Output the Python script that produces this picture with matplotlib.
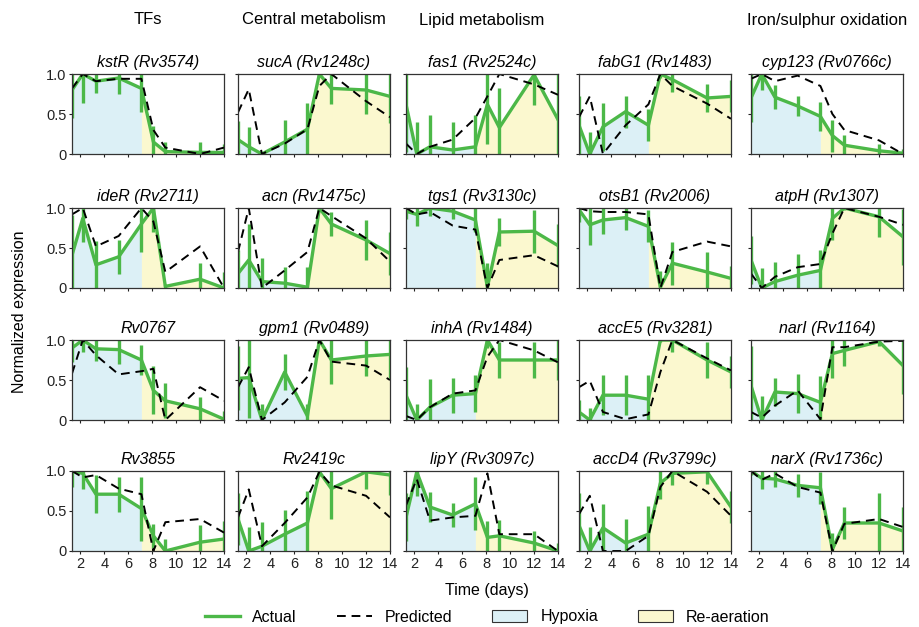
import matplotlib
matplotlib.use("Agg")
import matplotlib.pyplot as plt
import matplotlib.patches as patches
from matplotlib.lines import Line2D
import numpy as np

plt.rcParams['font.family'] = ['Liberation Sans', 'DejaVu Sans']

# sampling times (days), same for every gene
days = [1.3, 2.2, 3.3, 5.2, 7.1, 8.1, 9.1, 12.0, 14.0]
n_hypoxia = 5  # first five samples are hypoxia

column_names = ["TFs", "Central metabolism", "Lipid metabolism", "", "Iron/sulphur oxidation"]

# row 1
kstR_act = [0.80, 1.00, 0.91, 0.95, 0.82, 0.15, 0.03, 0.02, 0.02]
kstR_err = [0.35, 0.36, 0.15, 0.20, 0.30, 0.20, 0.12, 0.13, 0.10]
kstR_pred = [0.82, 1.00, 0.91, 0.94, 0.94, 0.30, 0.08, 0.00, 0.08]

sucA_act = [0.18, 0.09, 0.00, 0.15, 0.31, 1.00, 0.82, 0.80, 0.72]
sucA_err = [0.23, 0.25, 0.03, 0.27, 0.33, 0.03, 0.20, 0.30, 0.33]
sucA_pred = [0.52, 0.81, 0.00, 0.13, 0.31, 0.85, 1.00, 0.66, 0.46]

fas1_act = [0.62, 0.00, 0.09, 0.05, 0.09, 0.62, 0.33, 0.99, 0.43]
fas1_err = [0.60, 0.40, 0.40, 0.35, 0.40, 0.50, 0.50, 0.38, 0.90]
fas1_pred = [0.13, 0.00, 0.09, 0.18, 0.45, 0.72, 1.00, 0.87, 0.74]

fabG1_act = [0.36, 0.00, 0.34, 0.53, 0.36, 1.00, 0.93, 0.70, 0.72]
fabG1_err = [0.36, 0.28, 0.30, 0.20, 0.20, 0.05, 0.15, 0.17, 0.20]
fabG1_pred = [0.46, 0.72, 0.00, 0.36, 0.62, 1.00, 0.85, 0.63, 0.44]

cyp123_act = [0.70, 1.00, 0.71, 0.60, 0.47, 0.23, 0.11, 0.04, 0.01]
cyp123_err = [0.30, 0.20, 0.15, 0.13, 0.18, 0.20, 0.13, 0.08, 0.05]
cyp123_pred = [0.94, 1.00, 0.91, 0.98, 0.85, 0.50, 0.30, 0.17, 0.00]

# row 2
ideR_act = [0.41, 0.87, 0.29, 0.39, 0.80, 1.00, 0.02, 0.11, 0.00]
ideR_err = [0.50, 0.30, 0.30, 0.21, 0.35, 0.30, 0.03, 0.20, 0.20]
ideR_pred = [0.92, 1.00, 0.52, 0.65, 1.00, 0.83, 0.20, 0.52, 0.00]

acn_act = [0.18, 0.35, 0.08, 0.06, 0.01, 1.00, 0.80, 0.60, 0.43]
acn_err = [0.30, 0.45, 0.30, 0.20, 0.25, 0.03, 0.15, 0.25, 0.27]
acn_pred = [0.45, 1.00, 0.00, 0.22, 0.45, 1.00, 0.90, 0.62, 0.33]

tgs1_act = [0.96, 0.92, 1.00, 0.96, 0.85, 0.01, 0.70, 0.71, 0.53]
tgs1_err = [0.10, 0.15, 0.10, 0.10, 0.15, 0.30, 0.17, 0.27, 0.27]
tgs1_pred = [1.00, 0.92, 0.95, 0.78, 0.73, 0.00, 0.35, 0.41, 0.27]

otsB1_act = [0.98, 0.79, 0.85, 0.88, 0.77, 0.01, 0.31, 0.20, 0.12]
otsB1_err = [0.15, 0.25, 0.17, 0.15, 0.20, 0.20, 0.27, 0.25, 0.15]
otsB1_pred = [1.00, 0.96, 0.95, 0.95, 0.92, 0.00, 0.45, 0.58, 0.52]

atpH_act = [0.35, 0.00, 0.08, 0.16, 0.22, 0.87, 1.00, 0.89, 0.64]
atpH_err = [0.30, 0.25, 0.25, 0.27, 0.25, 0.27, 0.03, 0.25, 0.35]
atpH_pred = [0.18, 0.00, 0.14, 0.26, 0.30, 0.68, 1.00, 0.89, 0.79]

# row 3
Rv0767_act = [0.90, 1.00, 0.89, 0.88, 0.75, 0.37, 0.24, 0.14, 0.01]
Rv0767_err = [0.18, 0.15, 0.15, 0.18, 0.19, 0.30, 0.22, 0.15, 0.10]
Rv0767_pred = [0.58, 1.00, 0.81, 0.57, 0.61, 0.64, 0.00, 0.41, 0.24]

gpm1_act = [0.52, 0.53, 0.00, 0.60, 0.05, 1.00, 0.75, 0.80, 0.82]
gpm1_err = [0.40, 0.50, 0.20, 0.23, 0.15, 0.03, 0.30, 0.25, 0.30]
gpm1_pred = [0.41, 0.66, 0.00, 0.22, 0.54, 1.00, 0.73, 0.68, 0.50]

inhA_act = [0.31, 0.00, 0.16, 0.31, 0.33, 1.00, 0.75, 0.75, 0.75]
inhA_err = [0.35, 0.20, 0.35, 0.22, 0.23, 0.10, 0.22, 0.23, 0.25]
inhA_pred = [0.05, 0.00, 0.16, 0.33, 0.37, 0.79, 1.00, 0.87, 0.72]

accE5_act = [0.10, 0.00, 0.31, 0.31, 0.26, 1.00, 1.00, 0.75, 0.60]
accE5_err = [0.15, 0.15, 0.25, 0.25, 0.30, 0.03, 0.15, 0.23, 0.20]
accE5_pred = [0.41, 0.49, 0.10, 0.01, 0.07, 0.60, 1.00, 0.77, 0.62]

narI_act = [0.43, 0.00, 0.35, 0.33, 0.22, 0.83, 0.87, 0.98, 0.68]
narI_err = [0.50, 0.30, 0.18, 0.24, 0.33, 0.30, 0.20, 0.05, 0.35]
narI_pred = [0.10, 0.03, 0.18, 0.37, 0.01, 0.91, 0.91, 0.98, 0.99]

# row 4
Rv3855_act = [1.00, 0.97, 0.71, 0.71, 0.53, 0.19, 0.00, 0.11, 0.15]
Rv3855_err = [0.20, 0.20, 0.24, 0.22, 0.40, 0.15, 0.15, 0.22, 0.22]
Rv3855_pred = [1.00, 0.92, 0.95, 0.78, 0.71, 0.00, 0.36, 0.40, 0.23]

Rv2419c_act = [0.40, 0.00, 0.06, 0.21, 0.35, 0.99, 0.78, 0.99, 0.95]
Rv2419c_err = [0.32, 0.30, 0.30, 0.30, 0.40, 0.05, 0.38, 0.22, 0.25]
Rv2419c_pred = [0.42, 0.77, 0.06, 0.35, 0.67, 0.99, 0.82, 0.69, 0.42]

lipY_act = [0.42, 0.99, 0.55, 0.45, 0.59, 0.17, 0.19, 0.10, 0.00]
lipY_err = [0.30, 0.30, 0.19, 0.15, 0.33, 0.20, 0.20, 0.15, 0.10]
lipY_pred = [0.57, 0.90, 0.38, 0.42, 0.44, 0.97, 0.21, 0.21, 0.00]

accD4_act = [0.32, 0.00, 0.29, 0.10, 0.21, 0.85, 0.97, 0.99, 0.55]
accD4_err = [0.40, 0.30, 0.30, 0.30, 0.35, 0.20, 0.15, 0.15, 0.20]
accD4_pred = [0.46, 0.69, 0.00, 0.00, 0.19, 0.80, 1.00, 0.74, 0.44]

narX_act = [1.00, 0.91, 0.90, 0.82, 0.79, 0.02, 0.35, 0.35, 0.25]
narX_err = [0.05, 0.13, 0.10, 0.14, 0.20, 0.20, 0.20, 0.38, 0.30]
narX_pred = [1.00, 0.89, 0.97, 0.80, 0.73, 0.00, 0.34, 0.40, 0.30]

panels = [
    [("kstR (Rv3574)", kstR_act, kstR_err, kstR_pred),
     ("sucA (Rv1248c)", sucA_act, sucA_err, sucA_pred),
     ("fas1 (Rv2524c)", fas1_act, fas1_err, fas1_pred),
     ("fabG1 (Rv1483)", fabG1_act, fabG1_err, fabG1_pred),
     ("cyp123 (Rv0766c)", cyp123_act, cyp123_err, cyp123_pred)],
    [("ideR (Rv2711)", ideR_act, ideR_err, ideR_pred),
     ("acn (Rv1475c)", acn_act, acn_err, acn_pred),
     ("tgs1 (Rv3130c)", tgs1_act, tgs1_err, tgs1_pred),
     ("otsB1 (Rv2006)", otsB1_act, otsB1_err, otsB1_pred),
     ("atpH (Rv1307)", atpH_act, atpH_err, atpH_pred)],
    [("Rv0767", Rv0767_act, Rv0767_err, Rv0767_pred),
     ("gpm1 (Rv0489)", gpm1_act, gpm1_err, gpm1_pred),
     ("inhA (Rv1484)", inhA_act, inhA_err, inhA_pred),
     ("accE5 (Rv3281)", accE5_act, accE5_err, accE5_pred),
     ("narI (Rv1164)", narI_act, narI_err, narI_pred)],
    [("Rv3855", Rv3855_act, Rv3855_err, Rv3855_pred),
     ("Rv2419c", Rv2419c_act, Rv2419c_err, Rv2419c_pred),
     ("lipY (Rv3097c)", lipY_act, lipY_err, lipY_pred),
     ("accD4 (Rv3799c)", accD4_act, accD4_err, accD4_pred),
     ("narX (Rv1736c)", narX_act, narX_err, narX_pred)],
]

green = '#4cb848'
blue = '#dcf0f6'
yellow = '#fbf8cf'
dash = (0, (4.5, 3))

W, H = 919, 627
fig = plt.figure(figsize=(W / 100, H / 100), dpi=100)

col_left = [72, 238, 406, 579, 751]
row_top = [74, 208, 340, 471]
aw, ah = 152, 80

t = np.array(days)
for r in range(4):
    for c in range(5):
        title, act, err, pred = panels[r][c]
        act = np.array(act)
        ax = fig.add_axes([col_left[c] / W, 1 - (row_top[r] + ah) / H, aw / W, ah / H])
        k = n_hypoxia
        ax.fill_between(t[:k], 0, act[:k], color=blue, lw=0)
        ax.fill_between(t[k - 1:], 0, act[k - 1:], color=yellow, lw=0)
        ax.vlines(t, act - np.array(err), act + np.array(err), color=green, lw=2.4)
        ax.plot(t, act, color=green, lw=2.4)
        ax.plot(t, pred, color='black', lw=1.4, ls=dash)
        ax.set_xlim(days[0], days[-1])
        ax.set_ylim(0, 1)
        ax.set_xticks([2, 4, 6, 8, 10, 12, 14])
        ax.set_yticks([0, 0.5, 1.0])
        ax.tick_params(length=2, labelsize=10.5, colors='#222222', pad=2)
        if r < 3:
            ax.set_xticklabels([])
        if c > 0:
            ax.set_yticklabels([])
        else:
            ax.set_yticklabels(["0", "0.5", "1.0"])
        for s in ax.spines.values():
            s.set_color('#333333')
            s.set_linewidth(0.9)
        ax.set_title(title, fontsize=11.5, pad=5, fontstyle='italic')
        if r == 0 and column_names[c]:
            ax.text(0.5, 1.0 + 54 / ah, column_names[c], transform=ax.transAxes,
                    ha='center', va='center', fontsize=12)

fig.text(20 / W, 1 - 312 / H, "Normalized expression", rotation=90, ha='center', va='center', fontsize=11.5)
fig.text(487 / W, 1 - 590 / H, "Time (days)", ha='center', va='center', fontsize=11.5)

handles = [Line2D([], [], color=green, lw=2.4),
           Line2D([], [], color='black', lw=1.4, ls=dash),
           patches.Patch(facecolor=blue, edgecolor='#333333', lw=0.8),
           patches.Patch(facecolor=yellow, edgecolor='#333333', lw=0.8)]
fig.legend(handles, ["Actual", "Predicted", "Hypoxia", "Re-aeration"], ncol=4,
           loc='center', bbox_to_anchor=(487 / W, 1 - 617 / H), frameon=False,
           fontsize=11.5, handlelength=2.2, columnspacing=2.5, handletextpad=0.8)

fig.savefig("out.png", dpi=100)
